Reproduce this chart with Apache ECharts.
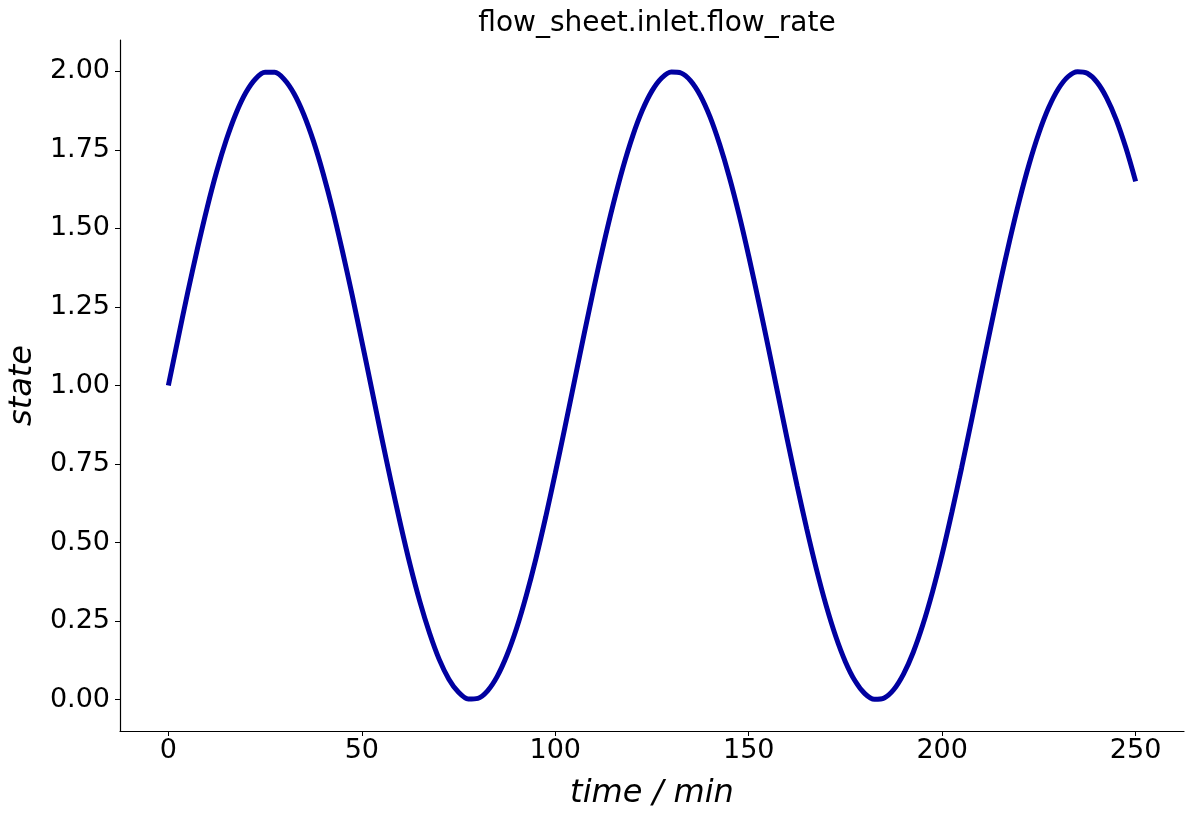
<!DOCTYPE html>
<html>
<head>
<meta charset="utf-8">
<script src="https://cdn.jsdelivr.net/npm/echarts@6/dist/echarts.min.js"></script>
<style>
html, body { margin: 0; padding: 0; background: #fff; }
#main { width: 1194px; height: 817px; }
</style>
</head>
<body>
<div id="main"></div>
<script>
// values, every 2.5 min
var times = [];
for (var t = 0; t <= 250; t += 2.5) times.push(t);
var flowRate = [
    1.000, 1.149, 1.296, 1.435, 1.565, 1.682, 1.783, 1.867, 1.932, 1.976,
    1.997, 1.997, 1.974, 1.929, 1.863, 1.778, 1.675, 1.558, 1.427, 1.288,
    1.141, 0.992, 0.842, 0.697, 0.558, 0.428, 0.312, 0.212, 0.128, 0.065,
    0.023, 0.002, 0.004, 0.028, 0.074, 0.141, 0.227, 0.331, 0.449, 0.580,
    0.721, 0.867, 1.017, 1.166, 1.312, 1.450, 1.578, 1.694, 1.794, 1.876,
    1.938, 1.979, 1.998, 1.995, 1.970, 1.923, 1.855, 1.767, 1.663, 1.544,
    1.412, 1.271, 1.125, 0.975, 0.826, 0.681, 0.543, 0.415, 0.300, 0.201,
    0.120, 0.059, 0.019, 0.001, 0.005, 0.032, 0.081, 0.150, 0.238, 0.343,
    0.463, 0.596, 0.737, 0.884, 1.034, 1.182, 1.328, 1.465, 1.592, 1.706,
    1.804, 1.884, 1.944, 1.983, 1.999, 1.994, 1.966, 1.916, 1.846, 1.756,
    1.650];
var xTicks = [0, 50, 100, 150, 200, 250];
var yTicks = [0, 0.25, 0.5, 0.75, 1, 1.25, 1.5, 1.75, 2];

var pts = [];
for (var i = 0; i < times.length; i++) {
    pts.push([times[i], flowRate[i]]);
}

var font = 'DejaVu Sans';
var myChart = echarts.init(document.getElementById('main'));
myChart.setOption({
    animation: false,
    title: {
        text: 'flow_sheet.inlet.flow_rate',
        left: 652,
        top: 5,
        textAlign: 'center',
        textStyle: { fontFamily: font, fontSize: 28, fontWeight: 'normal', color: '#000' }
    },
    grid: { left: 120, right: 10, top: 40, bottom: 86, containLabel: false, outerBoundsMode: 'none' },
    xAxis: {
        type: 'value',
        min: -12.5,
        max: 262.5,
        name: 'time / min',
        nameLocation: 'middle',
        nameGap: 47,
        nameTextStyle: { fontFamily: font, fontSize: 32, fontStyle: 'italic', color: '#000' },
        axisLine: { onZero: false, lineStyle: { color: '#000', width: 1.2 } },
        axisTick: { show: true, length: 5, customValues: xTicks, lineStyle: { color: '#000' } },
        axisLabel: {
            customValues: xTicks,
            margin: 6,
            fontFamily: font, fontSize: 27, color: '#000'
        },
        splitLine: { show: false }
    },
    yAxis: {
        type: 'value',
        min: -0.1,
        max: 2.1,
        name: 'state',
        nameLocation: 'middle',
        nameGap: 80,
        nameTextStyle: { fontFamily: font, fontSize: 32, fontStyle: 'italic', color: '#000' },
        axisLine: { show: true, onZero: false, lineStyle: { color: '#000', width: 1.2 } },
        axisTick: { show: true, length: 5, customValues: yTicks, lineStyle: { color: '#000' } },
        axisLabel: {
            customValues: yTicks,
            margin: 10,
            fontFamily: font, fontSize: 27, color: '#000',
            formatter: function (v) { return v.toFixed(2); }
        },
        splitLine: { show: false }
    },
    series: [{
        type: 'line',
        data: pts,
        smooth: 0.3,
        smoothConstraint: false,
        showSymbol: false,
        lineStyle: { color: '#0000a0', width: 5 }
    }]
});
</script>
</body>
</html>
